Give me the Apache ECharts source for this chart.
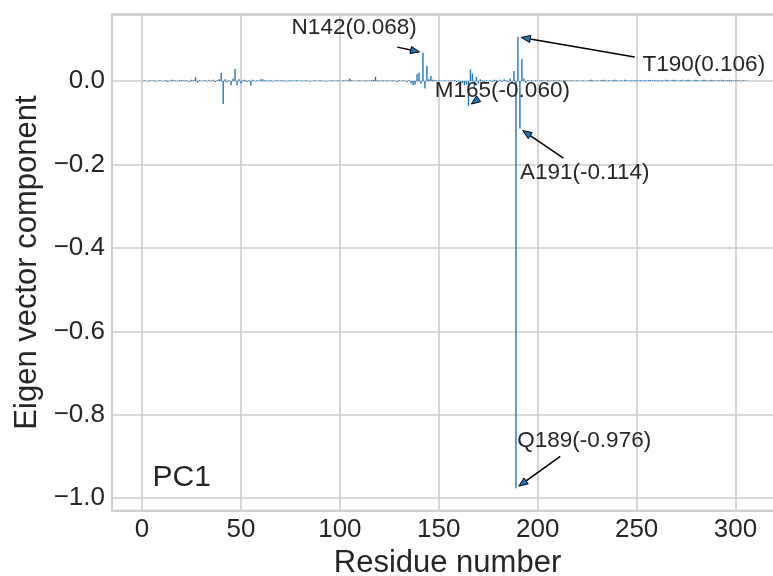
<!DOCTYPE html>
<html><head><meta charset="utf-8">
<script src="https://cdn.jsdelivr.net/npm/echarts@6/dist/echarts.min.js"></script>
<style>html,body{margin:0;padding:0;background:#fff}#c{width:773px;height:576px}</style>
</head><body><div id="c"></div>
<script>
// ---- data ----
const firstResidue = 1;
const pc1Values = [
  0.002, 0.001,-0.001, 0.002, 0.001, 0.002,-0.001, 0.001, 0.002, 0.001,
  0.001, 0.002,-0.002, 0.001, 0.003, 0.002, 0.001,-0.001, 0.002, 0.003,
  0.001, 0.002, 0.001,-0.002, 0.003, 0.002, 0.009,-0.004, 0.002, 0.001,
  0.001, 0.002,-0.001, 0.002, 0.001, 0.003,-0.002, 0.002, 0.004, 0.020,
 -0.055, 0.004,-0.003, 0.002,-0.010, 0.006, 0.029,-0.010, 0.004,-0.006,
  0.002, 0.003,-0.002, 0.002,-0.011, 0.003, 0.001, 0.002, 0.001, 0.004,
  0.004, 0.002, 0.001, 0.001, 0.002,-0.001, 0.001, 0.002, 0.001, 0.001,
  0.002, 0.001,-0.001, 0.001, 0.002, 0.001, 0.001, 0.002, 0.001, 0.001,
  0.001, 0.001, 0.002, 0.001,-0.001, 0.001, 0.002, 0.001, 0.001, 0.002,
  0.001, 0.001,-0.001, 0.001, 0.001, 0.002, 0.001, 0.001, 0.002, 0.001,
  0.001, 0.002, 0.001, 0.002, 0.006, 0.002, 0.001, 0.001, 0.001, 0.002,
  0.001, 0.001, 0.002, 0.001, 0.001, 0.002, 0.003, 0.010, 0.002, 0.001,
  0.001, 0.002, 0.001, 0.002, 0.001, 0.001, 0.002, 0.001,-0.002, 0.002,
  0.001, 0.002, 0.001,-0.003, 0.002,-0.006,-0.010,-0.008, 0.016, 0.020,
 -0.006, 0.068,-0.018, 0.036, 0.004, 0.012, 0.003, 0.002, 0.001, 0.002,
  0.001, 0.001, 0.002, 0.001, 0.001, 0.002, 0.001, 0.002,-0.002, 0.001,
 -0.003,-0.005,-0.010,-0.008,-0.060, 0.028, 0.018,-0.014, 0.010,-0.006,
  0.004, 0.002,-0.003, 0.002, 0.001, 0.002,-0.002, 0.003, 0.002, 0.001,
  0.003,-0.002, 0.004, 0.002,-0.003, 0.006,-0.006, 0.024,-0.976, 0.106,
 -0.114, 0.052, 0.006,-0.004, 0.002, 0.001, 0.002, 0.001, 0.002, 0.001,
  0.001, 0.002, 0.001, 0.001, 0.002, 0.001, 0.001, 0.002, 0.001, 0.001,
  0.002, 0.001, 0.001, 0.002, 0.001, 0.001, 0.002, 0.001, 0.001, 0.002,
  0.001, 0.001, 0.002, 0.001, 0.001, 0.002, 0.003, 0.002, 0.001, 0.002,
  0.001, 0.002, 0.003, 0.002, 0.001, 0.002, 0.001, 0.002, 0.003, 0.002,
  0.001, 0.002, 0.001, 0.003, 0.002, 0.001, 0.002, 0.001, 0.002, 0.002,
  0.001, 0.002, 0.001, 0.002, 0.001, 0.002, 0.003, 0.001, 0.002, 0.001,
  0.002, 0.001, 0.002, 0.001, 0.003, 0.002, 0.001, 0.002, 0.003, 0.002,
  0.001, 0.002, 0.003, 0.001, 0.002, 0.003, 0.002, 0.001, 0.002, 0.003,
  0.002, 0.001, 0.002, 0.003, 0.002, 0.001, 0.002, 0.003, 0.002, 0.001,
  0.002, 0.001, 0.003, 0.002, 0.001, 0.002, 0.003, 0.002, 0.001, 0.002,
  0.002, 0.001, 0.001, 0.002, 0.001, 0.001
];
const xTickValues = [0, 50, 100, 150, 200, 250, 300];
const xTickLabels = ['0', '50', '100', '150', '200', '250', '300'];
const yTickValues = [-1.0, -0.8, -0.6, -0.4, -0.2, 0.0];
const yTickLabels = ['\u22121.0', '\u22120.8', '\u22120.6', '\u22120.4', '\u22120.2', '0.0'];
const xTitle = 'Residue number';
const yTitle = 'Eigen vector component';
const panelLabel = 'PC1';
const panelLabelPos = [5.3, -0.951];
const annLabels = ['N142(0.068)', 'M165(-0.060)', 'T190(0.106)', 'A191(-0.114)', 'Q189(-0.976)'];
const annResidues = [142, 165, 190, 191, 189];
const annTextPos = [[75.6, 0.127], [148.0, -0.024], [253.0, 0.038], [191.0, -0.221], [189.7, -0.862]];
const annArrowFrom = [[129.0, 0.0813], [170.0, -0.043], [249.0, 0.0574], [213.0, -0.185], [211.4, -0.900]];
const xRange = [-15.2, 324];
const yRange = [-1.03, 0.16];

// ---- build ----
const barData = pc1Values.map((v, i) => [firstResidue + i, v]);
const FONT = '"Liberation Sans", Arial, sans-serif';
const TXT = '#262626';
function tickFmt(vals, labels) {
  return function (v) {
    for (let i = 0; i < vals.length; i++) if (Math.abs(v - vals[i]) < 1e-6) return labels[i];
    return '';
  };
}
const chart = echarts.init(document.getElementById('c'), null, {renderer: 'canvas'});
chart.setOption({
  animation: false,
  backgroundColor: '#ffffff',
  grid: {left: 112, top: 14.3, width: 671, height: 496.4, show: true, borderColor: '#cccccc', borderWidth: 2, containLabel: false, outerBoundsMode: 'none'},
  xAxis: {
    type: 'value', min: xRange[0], max: xRange[1], splitNumber: 7,
    name: xTitle, nameLocation: 'middle', nameGap: 25,
    nameTextStyle: {fontFamily: FONT, fontSize: 31, color: TXT},
    axisLine: {show: false}, axisTick: {show: false},
    axisLabel: {formatter: tickFmt(xTickValues, xTickLabels), fontFamily: FONT, fontSize: 26, color: TXT, margin: 6, showMinLabel: true, showMaxLabel: true},
    splitLine: {show: true, lineStyle: {color: '#cccccc', width: 1.6}}
  },
  yAxis: {
    type: 'value', min: yRange[0], max: yRange[1], splitNumber: 6,
    name: yTitle, nameLocation: 'middle', nameGap: 54,
    nameTextStyle: {fontFamily: FONT, fontSize: 31, color: TXT},
    axisLine: {show: false}, axisTick: {show: false},
    axisLabel: {formatter: tickFmt(yTickValues, yTickLabels), fontFamily: FONT, fontSize: 26, color: TXT, margin: 7},
    splitLine: {show: true, lineStyle: {color: '#cccccc', width: 1.6}}
  },
  series: [
    {
      type: 'bar', data: barData, barWidth: 1.4, barGap: '-100%',
      itemStyle: {color: '#1f77b4'}, silent: true, z: 2
    },
    {
      type: 'custom', z: 5, clip: false, silent: true,
      data: annLabels.map((_, i) => [i]),
      encode: {x: -1, y: -1},
      renderItem: function (params, api) {
        const i = params.dataIndex;
        const r = annResidues[i];
        const v = pc1Values[r - firstResidue];
        const target = api.coord([r, v]);
        const from = api.coord(annArrowFrom[i]);
        const dx = target[0] - from[0], dy = target[1] - from[1];
        const L = Math.hypot(dx, dy) || 1;
        const ux = dx / L, uy = dy / L;
        const tip = [target[0] - ux * 3.5, target[1] - uy * 3.5];
        const base = [tip[0] - ux * 9, tip[1] - uy * 9];
        const nx = -uy, ny = ux, hw = 3.6;
        const tp = api.coord(annTextPos[i]);
        return {
          type: 'group',
          children: [
            {type: 'line', shape: {x1: from[0], y1: from[1], x2: base[0], y2: base[1]}, style: {stroke: '#000', lineWidth: 1.5}},
            {type: 'polygon', shape: {points: [tip, [base[0] + nx * hw, base[1] + ny * hw], [base[0] - nx * hw, base[1] - ny * hw]]}, style: {fill: '#1f77b4', stroke: '#000', lineWidth: 1}},
            {type: 'text', x: tp[0], y: tp[1], style: {text: annLabels[i], fill: TXT, font: '22.5px ' + FONT, align: 'left', verticalAlign: 'middle', textAlign: 'left', textVerticalAlign: 'middle'}}
          ]
        };
      }
    },
    {
      type: 'custom', z: 5, clip: false, silent: true,
      data: [[0]],
      encode: {x: -1, y: -1},
      renderItem: function (params, api) {
        const p = api.coord(panelLabelPos);
        return {type: 'text', x: p[0], y: p[1], style: {text: panelLabel, fill: TXT, font: '30px ' + FONT, align: 'left', verticalAlign: 'middle', textAlign: 'left', textVerticalAlign: 'middle'}};
      }
    }
  ]
});
</script>
</body></html>
